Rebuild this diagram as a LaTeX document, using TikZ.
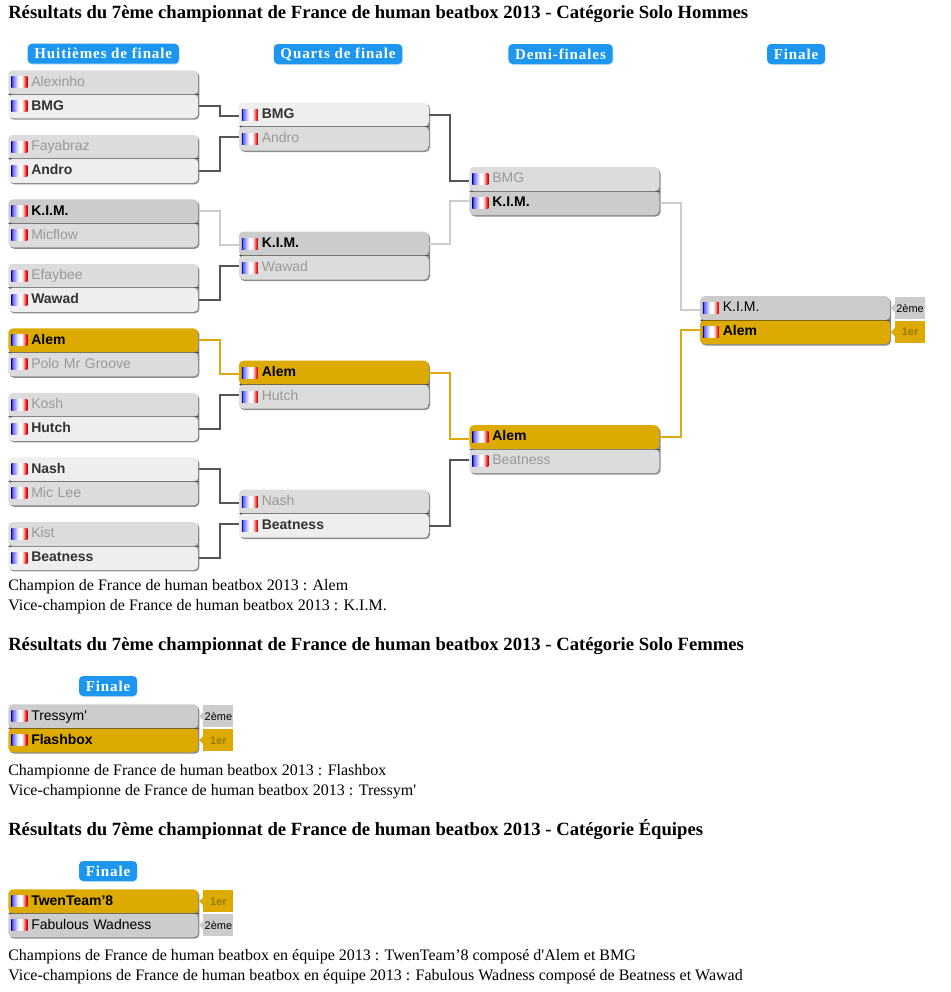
\documentclass[tikz,border=0pt]{standalone}
\usepackage{fontspec}
\usepackage{xcolor}
\usetikzlibrary{calc,positioning,shadows}
\newfontfamily\namefont{Liberation Sans}
\newfontfamily\bodyfont{Liberation Serif}
\newfontfamily\tabfont[LetterSpace=6]{Liberation Serif}
\definecolor{tabblue}{HTML}{1C96EE}
\definecolor{rowloserfill}{HTML}{DCDCDC}
\definecolor{rowwinnerfill}{HTML}{EEEEEE}
\definecolor{rowkimfill}{HTML}{CCCCCC}
\definecolor{rowsecondfill}{HTML}{CCCCCC}
\definecolor{rowgoldfill}{HTML}{DCAA00}
\definecolor{loserink}{HTML}{999999}
\definecolor{winnerink}{HTML}{333333}
\definecolor{goldink}{HTML}{9A7A10}
\definecolor{linkdark}{HTML}{555555}
\definecolor{linklight}{HTML}{CCCCCC}
\definecolor{linkgold}{HTML}{DCAA10}
\pgfdeclarehorizontalshading{flagfr}{100bp}{color(0bp)=(blue!60!black); color(26bp)=(blue!60!black); color(27bp)=(blue!65!white); color(44bp)=(blue!12!white); color(50bp)=(white); color(58bp)=(white); color(66bp)=(red!55!white); color(73bp)=(red!85!black); color(75bp)=(red!70!black); color(100bp)=(red!70!black)}
\tikzset{
  headline/.style={anchor=base west,inner sep=0pt,font=\bodyfont\fontsize{14}{16}\selectfont\bfseries},
  bodyline/.style={anchor=base west,inner sep=0pt,font=\bodyfont\fontsize{12}{14}\selectfont},
  roundtab/.style={rectangle,rounded corners=3pt,fill=tabblue,text=white,inner xsep=5pt,inner ysep=0pt,minimum height=15pt,font=\tabfont\fontsize{11.25}{13}\selectfont\bfseries,drop shadow={shadow xshift=.6pt,shadow yshift=-.6pt,fill=tabblue,opacity=.3}},
  duelbox/.style={rectangle,rounded corners=3.5pt,inner sep=0pt,minimum width=142.5pt,minimum height=36pt,drop shadow={shadow xshift=.9pt,shadow yshift=-1.1pt,fill=black,opacity=.45}},
  rowbox/.style={rectangle,inner ysep=0pt,inner xsep=17.25pt,text width=108pt,minimum height=18pt,text height=7.6pt,text depth=2pt,align=left,font=\namefont\fontsize{10.5}{12}\selectfont},
  rowloser/.style={text=loserink},
  rowwinner/.style={text=winnerink,font=\namefont\fontsize{10.5}{12}\selectfont\bfseries},
  rowkim/.style={text=black,font=\namefont\fontsize{10.5}{12}\selectfont\bfseries},
  rowgold/.style={text=black,font=\namefont\fontsize{10.5}{12}\selectfont\bfseries},
  rowsecond/.style={text=black},
  sepline/.style={draw=black,opacity=.4,line width=.75pt},
  flag/.style={rectangle,inner sep=0pt,minimum width=12pt,minimum height=8.25pt,shading=flagfr},
  rankbox/.style={rectangle,inner sep=0pt,minimum width=22.5pt,minimum height=16.5pt,font=\namefont\fontsize{8.25}{10}\selectfont},
  link/.style={line width=1.5pt,draw=linkdark},
  linkkim/.style={line width=1.5pt,draw=linklight},
  linkalem/.style={line width=1.5pt,draw=linkgold}
}
% one match: name, position, top style and text, bottom style and text
\newcommand{\duel}[6]{%
  \node[duelbox,#2,path picture={\fill[#3fill] (path picture bounding box.north west) rectangle (path picture bounding box.east);
    \fill[#5fill] (path picture bounding box.west) rectangle (path picture bounding box.south east);}] (#1) {};
  \node[rowbox,#3,anchor=north] (#1a) at (#1.north) {#4};
  \node[rowbox,#5,anchor=south] (#1b) at (#1.south) {#6};
  \draw[sepline] (#1.west) -- (#1.east);
  \node[flag,right=2.25pt of #1a.west] (#1aflag) {};
  \node[flag,right=2.25pt of #1b.west] (#1bflag) {};
}
% rank label beside a row
\newcommand{\ranklabel}[4]{%
  \node[rankbox,fill=#3,right=3.75pt of #2.east,#4] (#1) {};
}
\begin{document}
\begin{tikzpicture}[x=.75pt,y=-.75pt]
\useasboundingbox (0,0) rectangle (950,992);
\node[headline] (title1) at (8,18) {Résultats du 7ème championnat de France de human beatbox 2013 - Catégorie Solo Hommes};
% huitiemes
\duel{h1}{anchor=north west,at={(8,70)}}{rowloser}{Alexinho}{rowwinner}{BMG}
\duel{h2}{below=12pt of h1}{rowloser}{Fayabraz}{rowwinner}{Andro}
\duel{h3}{below=12pt of h2}{rowkim}{K.I.M.}{rowloser}{Micflow}
\duel{h4}{below=12pt of h3}{rowloser}{Efaybee}{rowwinner}{Wawad}
\duel{h5}{below=12pt of h4}{rowgold}{Alem}{rowloser}{Polo Mr Groove}
\duel{h6}{below=12pt of h5}{rowloser}{Kosh}{rowwinner}{Hutch}
\duel{h7}{below=12pt of h6}{rowwinner}{Nash}{rowloser}{Mic Lee}
\duel{h8}{below=12pt of h7}{rowloser}{Kist}{rowwinner}{Beatness}
% quarts
\duel{q1}{anchor=west,at={($(h1.east)!.5!(h2.east)+(30pt,0)$)}}{rowwinner}{BMG}{rowloser}{Andro}
\duel{q2}{anchor=west,at={($(h3.east)!.5!(h4.east)+(30pt,0)$)}}{rowkim}{K.I.M.}{rowloser}{Wawad}
\duel{q3}{anchor=west,at={($(h5.east)!.5!(h6.east)+(30pt,0)$)}}{rowgold}{Alem}{rowloser}{Hutch}
\duel{q4}{anchor=west,at={($(h7.east)!.5!(h8.east)+(30pt,0)$)}}{rowloser}{Nash}{rowwinner}{Beatness}
% demies
\duel{s1}{anchor=west,at={($(q1.east)!.5!(q2.east)+(30pt,0)$)}}{rowloser}{BMG}{rowkim}{K.I.M.}
\duel{s2}{anchor=west,at={($(q3.east)!.5!(q4.east)+(30pt,0)$)}}{rowgold}{Alem}{rowloser}{Beatness}
% finale
\duel{f1}{anchor=west,at={($(s1.east)!.5!(s2.east)+(30pt,0)$)}}{rowsecond}{K.I.M.}{rowgold}{Alem}
\node[roundtab,above=4.5pt of h1] (tabh) {Huitièmes de finale};
\node[roundtab] (tabq) at (338,54) {Quarts de finale};
\node[roundtab] (tabs) at (560.5,54) {Demi-finales};
\node[roundtab] (tabf) at (796,54) {Finale};
\draw[link] (h1b.east) -- ++(15.75pt,0) |- ([yshift=7.75pt]q1.west);
\draw[link] (h2b.east) -- ++(15.75pt,0) |- ([yshift=-7.75pt]q1.west);
\draw[linkkim] (h3a.east) -- ++(15.75pt,0) |- ([yshift=7.75pt]q2.west);
\draw[link] (h4b.east) -- ++(15.75pt,0) |- ([yshift=-7.75pt]q2.west);
\draw[linkalem] (h5a.east) -- ++(15.75pt,0) |- ([yshift=7.75pt]q3.west);
\draw[link] (h6b.east) -- ++(15.75pt,0) |- ([yshift=-7.75pt]q3.west);
\draw[link] (h7a.east) -- ++(15.75pt,0) |- ([yshift=7.75pt]q4.west);
\draw[link] (h8b.east) -- ++(15.75pt,0) |- ([yshift=-7.75pt]q4.west);
\draw[link] (q1a.east) -- ++(15.75pt,0) |- ([yshift=7.75pt]s1.west);
\draw[linkkim] (q2a.east) -- ++(15.75pt,0) |- ([yshift=-7.75pt]s1.west);
\draw[linkalem] (q3a.east) -- ++(15.75pt,0) |- ([yshift=7.75pt]s2.west);
\draw[link] (q4b.east) -- ++(15.75pt,0) |- ([yshift=-7.75pt]s2.west);
\draw[linkkim] (s1b.east) -- ++(15.75pt,0) |- ([yshift=7.75pt]f1.west);
\draw[linkalem] (s2a.east) -- ++(15.75pt,0) |- ([yshift=-7.75pt]f1.west);
\node[rankbox,fill=rowkimfill,text=black,right=3.5pt of f1a.east] (f1r2) {2ème};
\node[rankbox,fill=rowgoldfill,text=goldink,font=\namefont\fontsize{8.25}{10}\selectfont\bfseries,right=3.5pt of f1b.east] (f1r1) {1er};
\fill[rowkimfill] ([yshift=3pt]f1r2.west) -- ++(-3pt,-3pt) -- ++(3pt,-3pt) -- cycle;
\fill[rowgoldfill] ([yshift=3pt]f1r1.west) -- ++(-3pt,-3pt) -- ++(3pt,-3pt) -- cycle;
\node[bodyline] (res1) at (8,590) {Champion de France de human beatbox 2013 : Alem};
\node[bodyline] (res2) at (8,610) {Vice-champion de France de human beatbox 2013 : K.I.M.};
% femmes
\node[headline] (title2) at (8,650) {Résultats du 7ème championnat de France de human beatbox 2013 - Catégorie Solo Femmes};
\duel{w1}{anchor=north west,at={(8,704)}}{rowsecond}{Tressym'}{rowgold}{Flashbox}
\node[roundtab] (tabw) at (108,686) {Finale};
\node[rankbox,fill=rowkimfill,text=black,right=3.5pt of w1a.east] (w1r2) {2ème};
\node[rankbox,fill=rowgoldfill,text=goldink,font=\namefont\fontsize{8.25}{10}\selectfont\bfseries,right=3.5pt of w1b.east] (w1r1) {1er};
\fill[rowkimfill] ([yshift=3pt]w1r2.west) -- ++(-3pt,-3pt) -- ++(3pt,-3pt) -- cycle;
\fill[rowgoldfill] ([yshift=3pt]w1r1.west) -- ++(-3pt,-3pt) -- ++(3pt,-3pt) -- cycle;
\node[bodyline] (res3) at (8,775) {Championne de France de human beatbox 2013 : Flashbox};
\node[bodyline] (res4) at (8,795) {Vice-championne de France de human beatbox 2013 : Tressym'};
% equipes
\node[headline] (title3) at (8,835) {Résultats du 7ème championnat de France de human beatbox 2013 - Catégorie Équipes};
\duel{t1}{anchor=north west,at={(8,889)}}{rowgold}{TwenTeam’8}{rowsecond}{Fabulous Wadness}
\node[roundtab] (tabt) at (108,871) {Finale};
\node[rankbox,fill=rowgoldfill,text=goldink,font=\namefont\fontsize{8.25}{10}\selectfont\bfseries,right=3.5pt of t1a.east] (t1r1) {1er};
\node[rankbox,fill=rowkimfill,text=black,right=3.5pt of t1b.east] (t1r2) {2ème};
\fill[rowgoldfill] ([yshift=3pt]t1r1.west) -- ++(-3pt,-3pt) -- ++(3pt,-3pt) -- cycle;
\fill[rowkimfill] ([yshift=3pt]t1r2.west) -- ++(-3pt,-3pt) -- ++(3pt,-3pt) -- cycle;
\node[bodyline] (res5) at (8,960) {Champions de France de human beatbox en équipe 2013 : TwenTeam’8 composé d'Alem et BMG};
\node[bodyline] (res6) at (8,980) {Vice-champions de France de human beatbox en équipe 2013 : Fabulous Wadness composé de Beatness et Wawad};
\end{tikzpicture}
\end{document}
